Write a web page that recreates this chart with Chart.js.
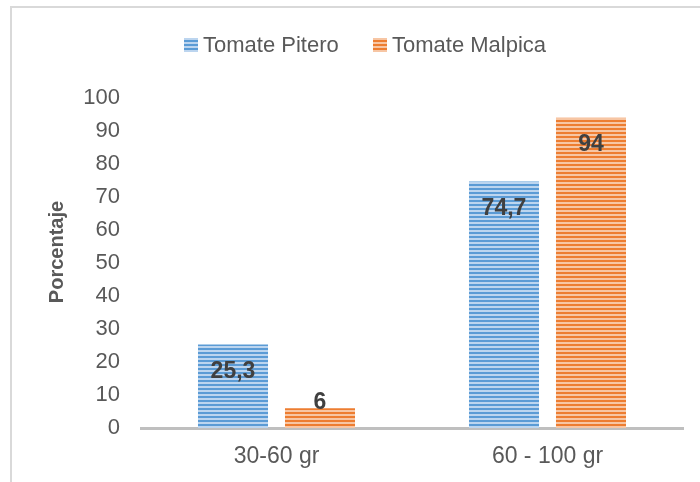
<!DOCTYPE html>
<html>
<head>
<meta charset="utf-8">
<script src="https://cdn.jsdelivr.net/npm/chart.js@4/dist/chart.umd.min.js"></script>
<style>
  html, body { margin: 0; padding: 0; background: #fff; overflow: hidden; }
  #wrap { width: 700px; height: 482px; position: relative; }
</style>
</head>
<body>
<div id="wrap"><canvas id="c" width="700" height="482"></canvas></div>
<script>
// Weight ranges and the share of fruit (%) per tomato variety
const categories = ['30-60 gr', '60 - 100 gr'];
const pitero = [25.3, 74.7];
const malpica = [6, 94];
const seriesNames = ['Tomate Pitero', 'Tomate Malpica'];
const yTicks = [0, 10, 20, 30, 40, 50, 60, 70, 80, 90, 100];
const yTitle = 'Porcentaje';

const FONT = "'Liberation Sans', Arial, sans-serif";
const TEXT = '#595959';

// Horizontal-line hatch fill, like the office "horizontal lines" pattern
function stripes(dark, light) {
  const p = document.createElement('canvas');
  p.width = 8; p.height = 4;
  const g = p.getContext('2d');
  g.fillStyle = light; g.fillRect(0, 0, 8, 4);
  g.fillStyle = dark; g.fillRect(0, 0, 8, 2);
  return g.createPattern(p, 'repeat');
}
const bluePat = stripes('#5b9bd5', '#bcd5ef');
const orangePat = stripes('#ed7d31', '#f7c6a4');

// Light frame around the whole chart
const framePlugin = {
  id: 'frame',
  beforeDraw(chart) {
    const c = chart.ctx;
    c.save();
    c.strokeStyle = '#d9d9d9';
    c.lineWidth = 2;
    c.strokeRect(11, 7, 800, 800);
    c.restore();
  }
};

// Legend row above the plot, plus the rotated y-axis title
const legendPlugin = {
  id: 'topLegend',
  afterDraw(chart) {
    const c = chart.ctx;
    const items = [{ x: 184 }, { x: 373 }];
    c.save();
    c.font = '22px ' + FONT;
    c.textBaseline = 'middle';
    chart.data.datasets.forEach((ds, i) => {
      const x = items[i].x;
      c.fillStyle = ds.backgroundColor;
      c.fillRect(x, 38, 14, 14);
      c.fillStyle = TEXT;
      c.fillText(ds.label, x + 19, 46);
    });
    c.translate(57, 252);
    c.rotate(-Math.PI / 2);
    c.font = 'bold 20px ' + FONT;
    c.textAlign = 'center';
    c.fillStyle = TEXT;
    c.fillText(yTitle, 0, 0);
    c.restore();
  }
};

// Value labels inside the top of each bar (pushed above when the bar is short)
const valueLabels = {
  id: 'valueLabels',
  afterDatasetsDraw(chart) {
    const c = chart.ctx;
    c.save();
    c.font = 'bold 23px ' + FONT;
    c.fillStyle = '#404040';
    c.textAlign = 'center';
    c.textBaseline = 'middle';
    chart.data.datasets.forEach((ds, di) => {
      const meta = chart.getDatasetMeta(di);
      meta.data.forEach((bar, i) => {
        const v = ds.data[i];
        const txt = String(v).replace('.', ',');
        const y = Math.min(bar.y + 27, bar.base - 25);
        c.fillText(txt, bar.x, y);
      });
    });
    c.restore();
  }
};

new Chart(document.getElementById('c'), {
  type: 'bar',
  data: {
    labels: categories,
    datasets: [
      { label: seriesNames[0], data: pitero, backgroundColor: bluePat },
      { label: seriesNames[1], data: malpica, backgroundColor: orangePat }
    ]
  },
  options: {
    responsive: false,
    animation: false,
    devicePixelRatio: 1,
    categoryPercentage: 0.642,
    barPercentage: 0.805,
    layout: { padding: { top: 98, right: 17, bottom: 0, left: 0 } },
    plugins: { legend: { display: false }, tooltip: { enabled: false } },
    scales: {
      x: {
        grid: { display: false, drawTicks: false },
        border: { display: true, color: '#bfbfbf', width: 3 },
        ticks: { color: TEXT, font: { family: FONT, size: 23 }, padding: 15 },
        afterFit(s) { s.height = 54; }
      },
      y: {
        min: 0, max: 100,
        afterBuildTicks(s) { s.ticks = yTicks.map(v => ({ value: v })); },
        grid: { display: false, drawTicks: false },
        border: { display: false },
        ticks: { color: TEXT, font: { family: FONT, size: 22 }, padding: 21 },
        afterFit(s) { s.width = 141; }
      }
    }
  },
  plugins: [framePlugin, legendPlugin, valueLabels]
});
</script>
</body>
</html>
